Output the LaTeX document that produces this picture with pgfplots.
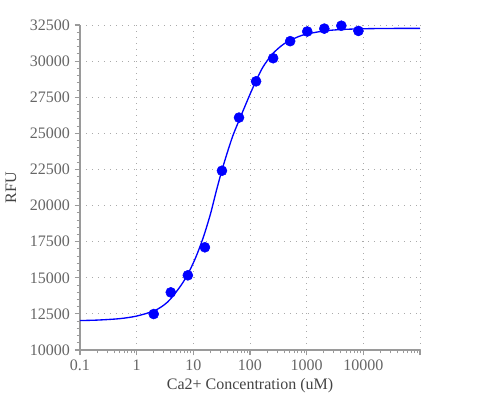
\documentclass[border=0pt]{standalone}
\usepackage{fontspec}
\setmainfont{Liberation Serif}
\usepackage{pgfplots}
\pgfplotsset{compat=1.18}
\definecolor{tickgray}{HTML}{666666}
\definecolor{titlegray}{HTML}{444444}
\definecolor{axgray}{HTML}{9A9A9A}
\definecolor{gridgray}{HTML}{AAAAAA}
\begin{document}
\begin{tikzpicture}
\path[use as bounding box] (-60pt,-37.5pt) rectangle (315pt,262.5pt);
\begin{axis}[
  at={(0pt,0pt)}, anchor=south west,
  scale only axis,
  width=255pt, height=243.75pt,
  xmode=log,
  xmin=0.1, xmax=100000,
  ymin=10000, ymax=32500,
  axis x line=bottom, axis y line=left,
  axis line style={-, draw=axgray, line width=1.2pt},
  xtick={0.1,1,10,100,1000,10000,100000},
  xticklabels={0.1,1,10,100,1000,10000,{}},
  minor xtick={0.2,0.3,0.4,0.5,0.6,0.7,0.8,0.9,2,3,4,5,6,7,8,9,20,30,40,50,60,70,80,90,200,300,400,500,600,700,800,900,2000,3000,4000,5000,6000,7000,8000,9000,20000,30000,40000,50000,60000,70000,80000,90000},
  ytick={10000,12500,15000,17500,20000,22500,25000,27500,30000,32500},
  minor ytick={10500,11000,11500,12000,13000,13500,14000,14500,15500,16000,16500,17000,18000,18500,19000,19500,20500,21000,21500,22000,23000,23500,24000,24500,25500,26000,26500,27000,28000,28500,29000,29500,30500,31000,31500,32000},
  scaled y ticks=false,
  tick align=outside,
  major tick length=4pt,
  minor tick length=2.5pt,
  every tick/.style={draw=axgray, line width=0.8pt},
  every minor tick/.style={draw=axgray, line width=0.6pt},
  /pgf/number format/1000 sep={},
  /pgf/number format/assume math mode=true,
  tick label style={font=\fontsize{12pt}{14pt}\selectfont, text=tickgray},
  xmajorgrids, ymajorgrids,
  xminorgrids=false, yminorgrids=false,
  major grid style={draw=gridgray, line width=0.6pt, dash pattern=on 0.8pt off 3.7pt},
  xlabel={Ca2+ Concentration (uM)},
  ylabel={RFU},
  label style={font=\fontsize{12pt}{14pt}\selectfont, text=titlegray},
  xlabel style={at={(axis description cs:0.5,-0.11)}, anchor=center},
  ylabel style={at={(axis description cs:-0.203,0.5)}, anchor=center},
]
\addplot[draw={rgb,255:red,0;green,0;blue,255}, line width=1pt, smooth, no markers] coordinates {
(0.1,12040) (0.2,12070) (0.5,12170) (1,12350) (2,12700) (3,13100) (4,13550)
(6,14450) (8,15250) (11,16400) (15,17800) (20,19400) (25,20900) (32,22450)
(40,23700) (50,24850) (65,25950) (80,26800) (100,27700) (130,28700) (170,29600)
(250,30500) (400,31200) (700,31680) (1000,31870) (2000,32085) (4000,32185)
(10000,32240) (30000,32262) (100000,32268)
};
\addplot[only marks, mark=*, mark size=3.75pt, mark options={fill={rgb,255:red,0;green,0;blue,255}, draw={rgb,255:red,0;green,0;blue,255}}] coordinates {
(2,12490) (4,13990) (8,15170) (16,17110) (32,22410) (64,26090) (128,28600)
(256,30200) (512,31380) (1024,32050) (2048,32250) (4096,32450) (8192,32090)
};
\end{axis}
\end{tikzpicture}
\end{document}
